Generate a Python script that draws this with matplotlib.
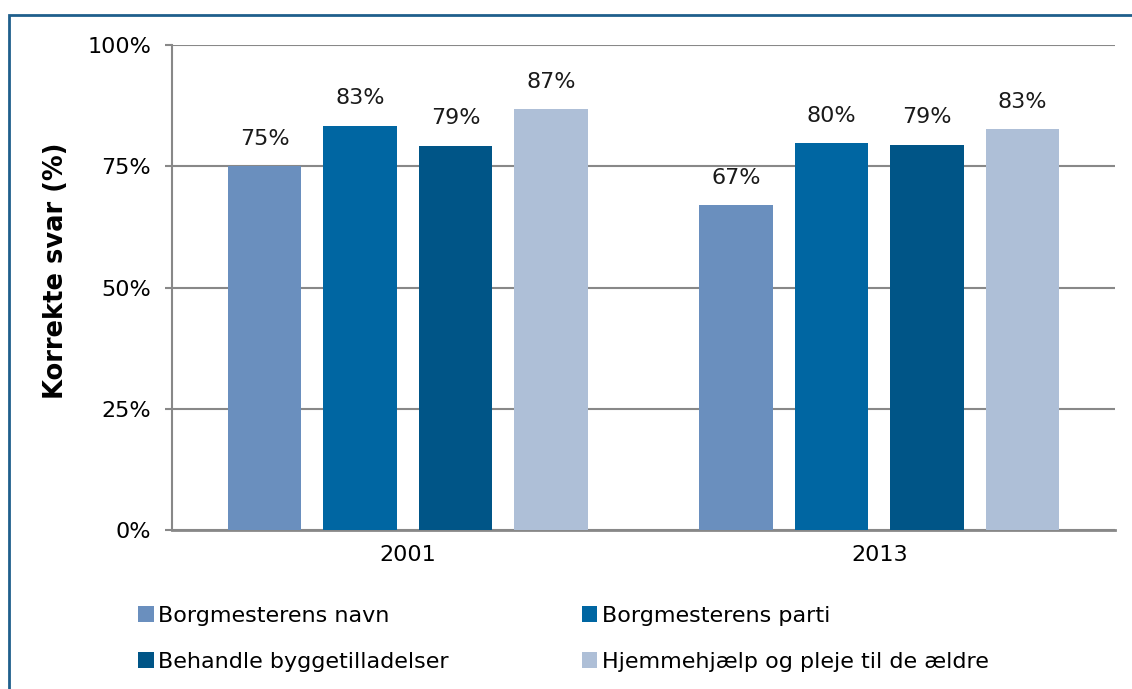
import numpy as np
import matplotlib
matplotlib.use("Agg")
import matplotlib.pyplot as plt
from matplotlib.patches import Rectangle

years = ["2001", "2013"]
series = ["Borgmesterens navn", "Borgmesterens parti",
          "Behandle byggetilladelser", "Hjemmehjælp og pleje til de ældre"]
values = [
    [75.0, 67.0],   # Borgmesterens navn
    [83.4, 79.7],   # Borgmesterens parti
    [79.2, 79.4],   # Behandle byggetilladelser
    [86.8, 82.6],   # Hjemmehjælp og pleje til de ældre
]
labels = [
    ["75%", "67%"],
    ["83%", "80%"],
    ["79%", "79%"],
    ["87%", "83%"],
]
colors = ["#6A8FBE", "#0066A2", "#005587", "#AEBFD7"]

plt.rcParams['font.family'] = ['DejaVu Sans']

fig = plt.figure(figsize=(11.32, 6.89), dpi=100)
ax = fig.add_axes([172/1132, 1-530/689, (1115-172)/1132, (530-45)/689])

# outer frame (top and left edges visible)
fig.patches.append(Rectangle((9/1132, -0.05), 1.2, 1-15/689+0.05, transform=fig.transFigure,
                             fill=False, edgecolor="#1F5F8C", linewidth=2, zorder=0))

x = np.arange(len(years))
w = 0.155
step = 0.2025
handles = []
for i, s in enumerate(series):
    pos = x + (i - 1.5) * step
    bars = ax.bar(pos, values[i], width=w, color=colors[i], label=s, zorder=3)
    handles.append(bars)
    for b, lab in zip(bars, labels[i]):
        ax.text(b.get_x() + b.get_width()/2, b.get_height() + 3.6, lab,
                ha='center', va='bottom', fontsize=16, color='#1a1a1a')

ax.set_xlim(-0.5, 1.5)
ax.set_ylim(0, 100)
ax.set_yticks([0, 25, 50, 75, 100])
ax.set_yticklabels(["0%", "25%", "50%", "75%", "100%"], fontsize=16)
ax.set_xticks(x)
ax.set_xticklabels(years, fontsize=16)
ax.tick_params(axis='x', length=0, pad=11)
ax.tick_params(axis='y', length=5, width=1.5, color='#888888', pad=10)
ax.yaxis.grid(True, color='#888888', linewidth=1.5, zorder=0)
ax.set_axisbelow(True)
for sp in ['top', 'right']:
    ax.spines[sp].set_visible(False)
ax.spines['left'].set_color('#888888')
ax.spines['left'].set_linewidth(1.5)
ax.spines['bottom'].set_color('#888888')
ax.spines['bottom'].set_linewidth(2)

ax.set_ylabel("Korrekte svar (%)", fontsize=18.5, fontweight='bold')
ax.yaxis.set_label_coords(-0.109, 0.534)

# legend filled row by row
order = [0, 2, 1, 3]
ax.legend([handles[k] for k in order], [series[k] for k in order],
          loc='upper left', bbox_to_anchor=(-0.0573, -0.1147), ncol=2, frameon=False,
          fontsize=16, handlelength=0.7, handleheight=0.7, handletextpad=0.2,
          columnspacing=6.0, labelspacing=1.18)

fig.savefig("out.png", dpi=100)
